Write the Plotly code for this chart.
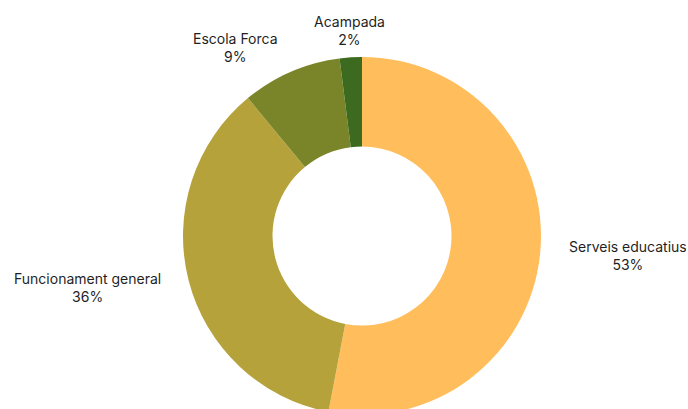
import math
import plotly.graph_objects as go

labels = ["Serveis educatius", "Funcionament general", "Escola Forca", "Acampada"]
values = [53, 36, 9, 2]
colors = ["#FFBE5B", "#B6A23B", "#7A8529", "#3C6A1F"]

W, H = 688, 424
cx, cy, r = 362, 236, 179
label_r = r * 1.15

fig = go.Figure(go.Pie(
    labels=labels,
    values=values,
    hole=0.5,
    sort=False,
    direction="clockwise",
    rotation=0,
    marker=dict(colors=colors, line=dict(width=0)),
    textinfo="none",
    hoverinfo="label+percent",
    showlegend=False,
    domain=dict(x=[(cx - r) / W, (cx + r) / W], y=[(H - cy - r) / H, (H - cy + r) / H]),
))

total = sum(values)
cum = 0
annotations = []
for lab, v in zip(labels, values):
    mid = (cum + v / 2) / total * 2 * math.pi
    cum += v
    dx, dy = math.sin(mid), -math.cos(mid)
    px, py = cx + label_r * dx, cy + label_r * dy
    xa = "left" if dx > 0.3 else ("right" if dx < -0.3 else "center")
    annotations.append(dict(
        x=px / W, y=(H - py) / H, xref="paper", yref="paper",
        text=f"{lab}<br>{round(v / total * 100)}%",
        showarrow=False, xanchor=xa, yanchor="middle", align="center",
        font=dict(family="Inter", size=14, color="#1f1f1f"),
    ))

fig.update_layout(
    width=W, height=H,
    margin=dict(l=0, r=0, t=0, b=0),
    paper_bgcolor="white",
    plot_bgcolor="white",
    annotations=annotations,
)

fig.write_html(
    "out.html",
    config={"displayModeBar": False},
    post_script="document.documentElement.style.overflow='hidden';document.body.style.overflow='hidden';document.body.style.margin='0';",
)
